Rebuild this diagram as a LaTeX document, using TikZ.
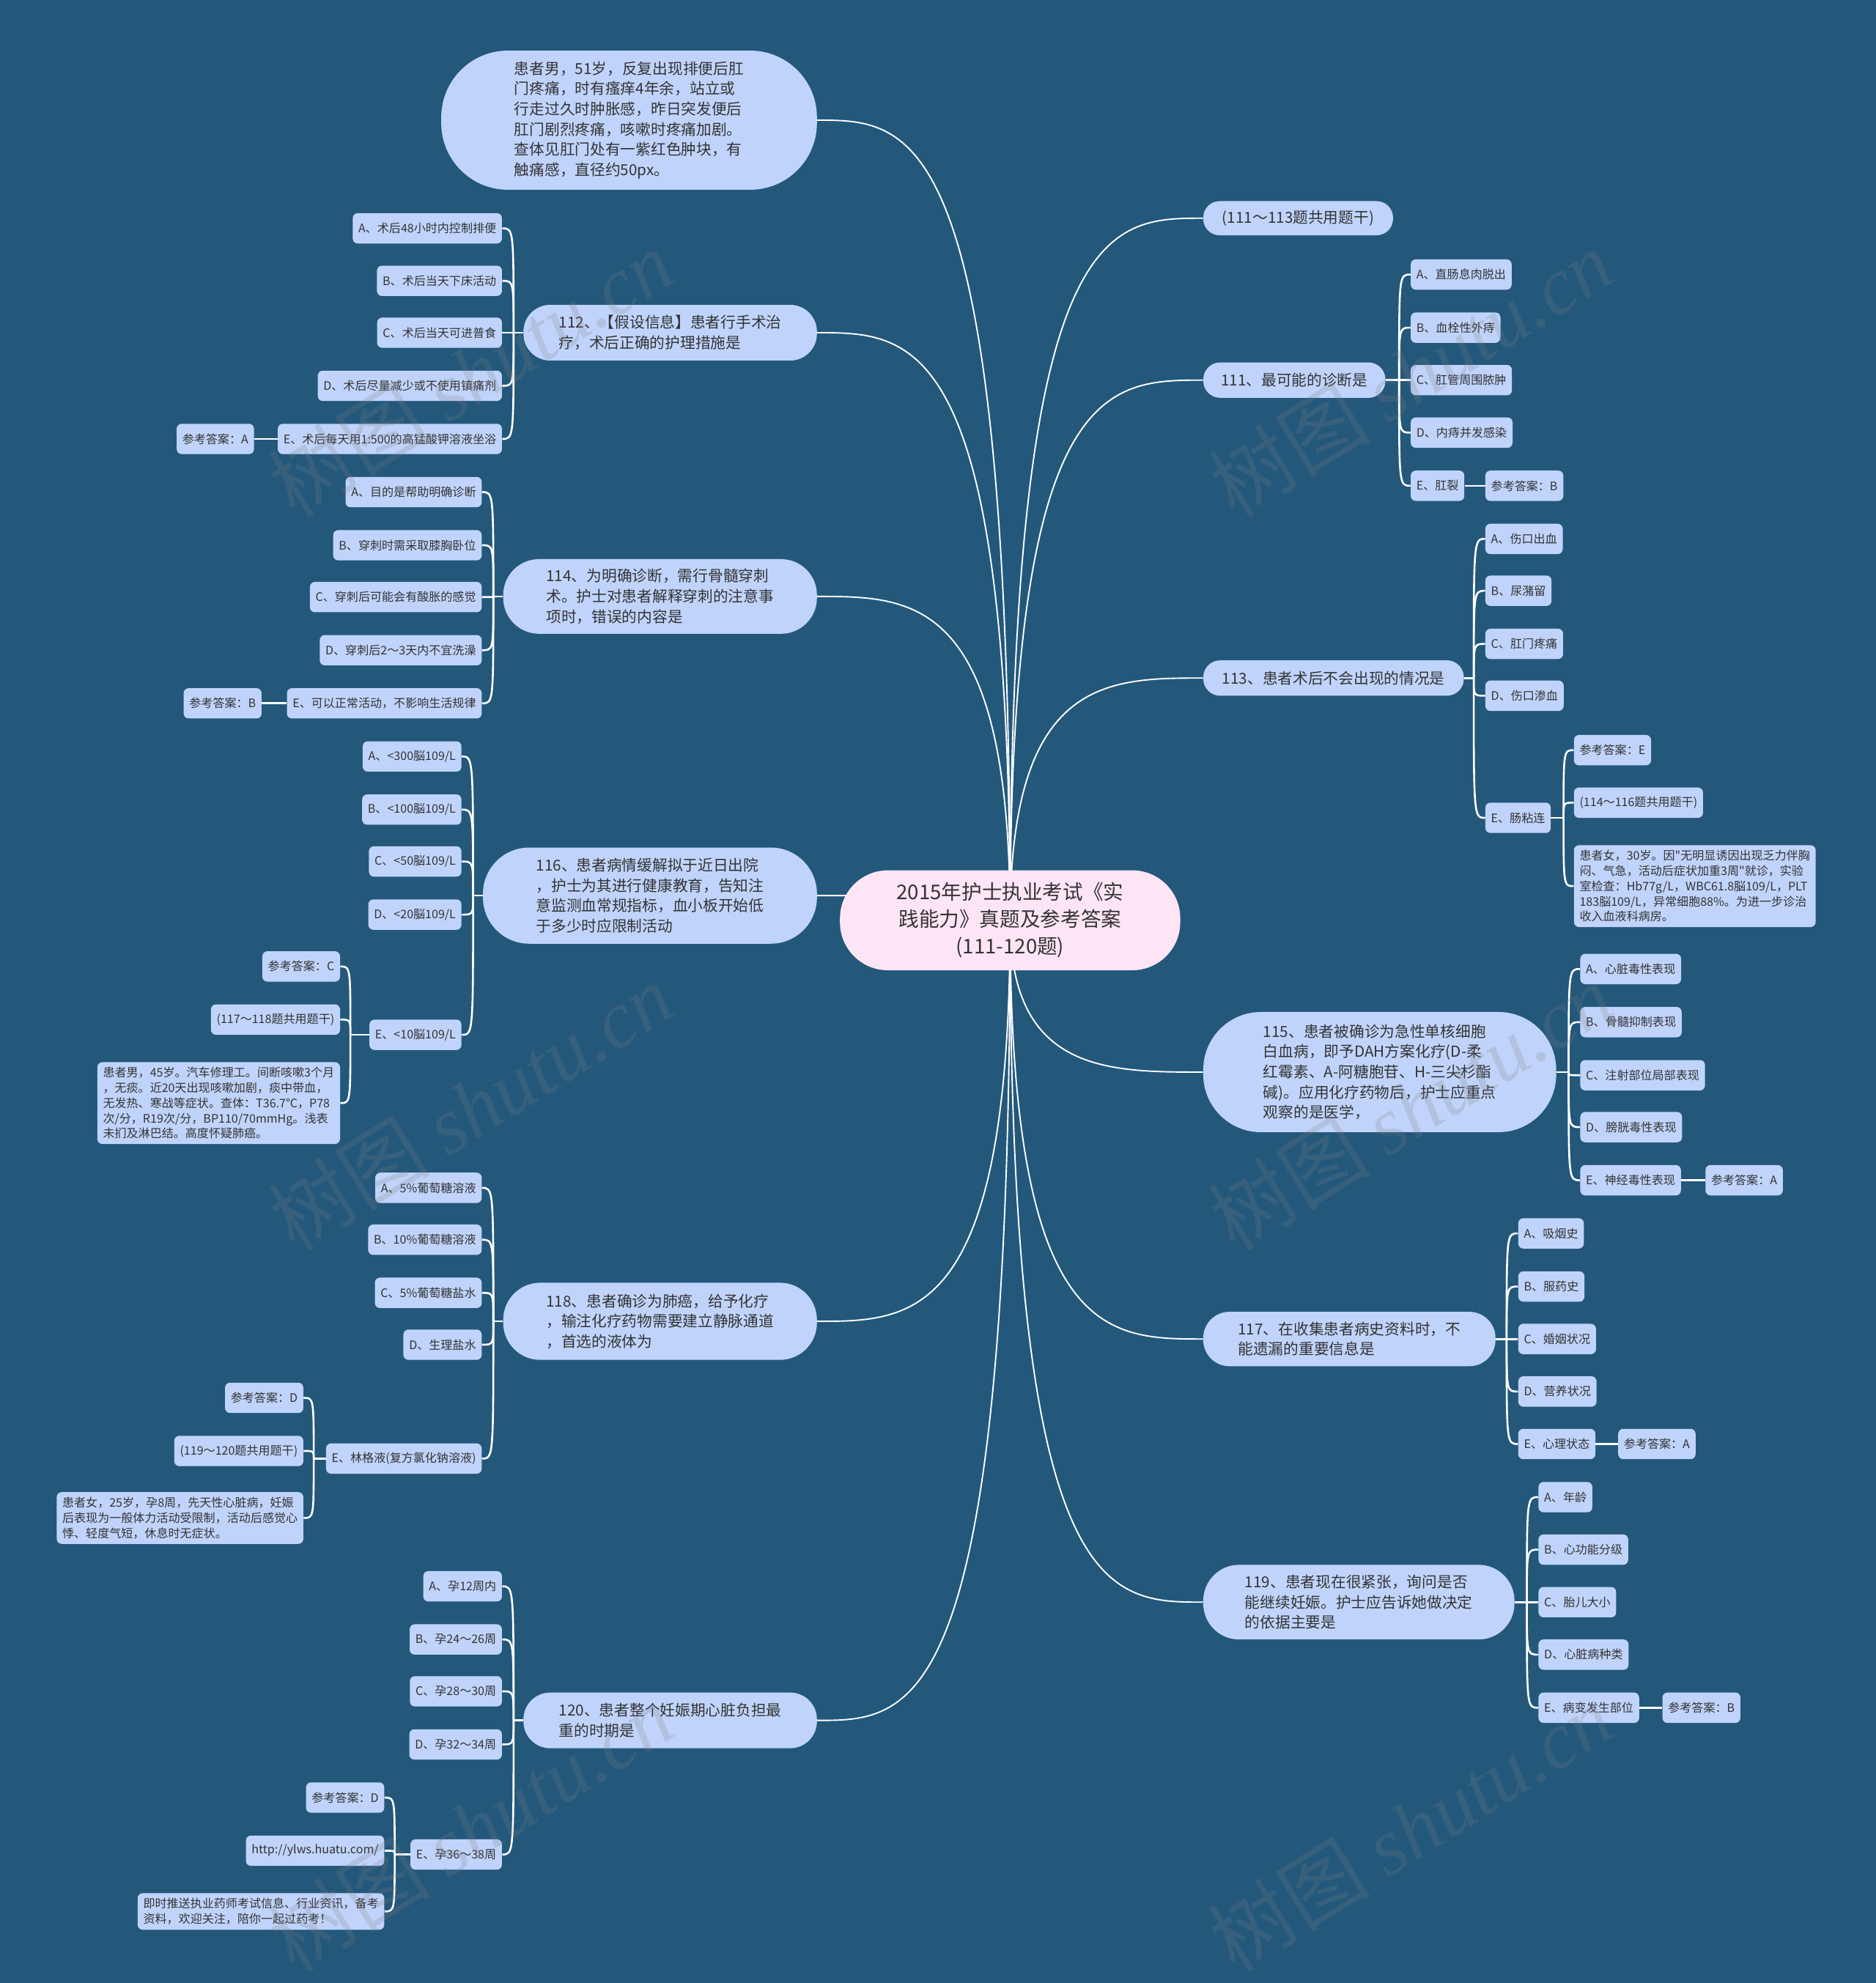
\documentclass[tikz,border=0pt]{standalone}
\usepackage{fontspec}
\setmainfont{Noto Sans CJK SC}[Ligatures=TeXOff]
\newfontfamily\wmlatin{Liberation Serif}
\usetikzlibrary{calc}

\definecolor{bgblue}{HTML}{23587B}
\definecolor{nodeblue}{HTML}{C0D4FB}
\definecolor{rootpink}{HTML}{FEE5F6}
\definecolor{inkgray}{HTML}{333333}

\pgfdeclarelayer{back}
\pgfdeclarelayer{links}
\pgfdeclarelayer{marks}
\pgfsetlayers{back,links,main,marks}

\tikzset{
    pill/.style 2 args={fill=nodeblue, text=inkgray, inner xsep=0pt, inner ysep=0pt,
        minimum width=#1pt, minimum height=#2pt, rounded corners=0.48*#2pt,
        align=left, font=\fontsize{12}{16}\selectfont},
    rootpill/.style={pill={269}{79}, fill=rootpink, align=center,
        font=\fontsize{16}{21.5}\selectfont},
    leaf/.style={fill=nodeblue, text=inkgray, inner xsep=4.5pt, inner ysep=0pt,
        minimum height=24pt, rounded corners=4pt, align=left,
        font=\fontsize{9.3}{12}\selectfont},
    note/.style={leaf, inner ysep=4pt},
    trunk/.style={draw=white, line width=1.1pt},
    twig/.style={draw=white, line width=1.5pt},
    wmark/.style={text=gray, opacity=0.22, rotate=32,
        font=\fontsize{64}{64}\selectfont}
}

\begin{document}
\begin{tikzpicture}[x=1pt, y=-1pt]

    % Canvas
    \useasboundingbox (0,0) rectangle (1483,1567.6);
    \begin{pgfonlayer}{back}
        \fill[bgblue] (0,0) rectangle (1483,1567.6);
    \end{pgfonlayer}

    % Root
    \node[rootpill] (root) at (798.5,727.5)
        {2015年护士执业考试《实\\践能力》真题及参考答案\\(111-120题)};

    % Right branches
    \node[pill={150}{27}, anchor=west] (R1) at (951,172.5) {(111～113题共用题干)};
    \node[pill={144}{28}, anchor=west] (R2) at (951,300.5) {111、最可能的诊断是};
    \node[pill={206}{28}, anchor=west] (R3) at (951,536) {113、患者术后不会出现的情况是};
    \node[pill={279}{95}, anchor=west] (R4) at (951,847.5)
        {115、患者被确诊为急性单核细胞\\白血病，即予DAH方案化疗(D-柔\\红霉素、A-阿糖胞苷、H-三尖杉酯\\碱)。应用化疗药物后，护士应重点\\观察的是医学，};
    \node[pill={231}{43}, anchor=west] (R5) at (951,1058.5)
        {117、在收集患者病史资料时，不\\能遗漏的重要信息是};
    \node[pill={246}{59}, anchor=west] (R6) at (951,1266.5)
        {119、患者现在很紧张，询问是否\\能继续妊娠。护士应告诉她做决定\\的依据主要是};

    % Left branches
    \node[pill={297}{110}, anchor=east] (L1) at (646,95)
        {患者男，51岁，反复出现排便后肛\\门疼痛，时有瘙痒4年余，站立或\\行走过久时肿胀感，昨日突发便后\\肛门剧烈疼痛，咳嗽时疼痛加剧。\\查体见肛门处有一紫红色肿块，有\\触痛感，直径约50px。};
    \node[pill={232}{44}, anchor=east] (L2) at (646,263)
        {112、【假设信息】患者行手术治\\疗，术后正确的护理措施是};
    \node[pill={248}{59}, anchor=east] (L3) at (646,471.5)
        {114、为明确诊断，需行骨髓穿刺\\术。护士对患者解释穿刺的注意事\\项时，错误的内容是};
    \node[pill={264}{76}, anchor=east] (L4) at (646,708)
        {116、患者病情缓解拟于近日出院\\，护士为其进行健康教育，告知注\\意监测血常规指标，血小板开始低\\于多少时应限制活动};
    \node[pill={248}{61}, anchor=east] (L5) at (646,1044.5)
        {118、患者确诊为肺癌，给予化疗\\，输注化疗药物需要建立静脉通道\\，首选的液体为};
    \node[pill={232}{44}, anchor=east] (L6) at (646,1360)
        {120、患者整个妊娠期心脏负担最\\重的时期是};

    % Options of 111
    \node[leaf, anchor=west] (R2a) at (1115,217) {A、直肠息肉脱出};
    \node[leaf, anchor=west] (R2b) at (1115,259) {B、血栓性外痔};
    \node[leaf, anchor=west] (R2c) at (1115,300.5) {C、肛管周围脓肿};
    \node[leaf, anchor=west] (R2d) at (1115,342) {D、内痔并发感染};
    \node[leaf, anchor=west] (R2e) at (1115,384) {E、肛裂};
    \node[leaf, anchor=west] (R2k) at (1174,384) {参考答案：B};

    % Options of 113
    \node[leaf, anchor=west] (R3a) at (1174,426) {A、伤口出血};
    \node[leaf, anchor=west] (R3b) at (1174,467) {B、尿潴留};
    \node[leaf, anchor=west] (R3c) at (1174,509) {C、肛门疼痛};
    \node[leaf, anchor=west] (R3d) at (1174,550) {D、伤口渗血};
    \node[leaf, anchor=west] (R3e) at (1174,646.5) {E、肠粘连};
    \node[leaf, anchor=west] (R3k) at (1244,593) {参考答案：E};
    \node[leaf, anchor=west] (R3s) at (1244,634.5) {(114～116题共用题干)};
    \node[note, anchor=west] (R3t) at (1244,700.5)
        {患者女，30岁。因"无明显诱因出现乏力伴胸\\闷、气急，活动后症状加重3周"就诊，实验\\室检查：Hb77g/L，WBC61.8脳109/L，PLT\\183脳109/L，异常细胞88\%。为进一步诊治\\收入血液科病房。};

    % Options of 115
    \node[leaf, anchor=west] (R4a) at (1249,766) {A、心脏毒性表现};
    \node[leaf, anchor=west] (R4b) at (1249,808) {B、骨髓抑制表现};
    \node[leaf, anchor=west] (R4c) at (1249,850) {C、注射部位局部表现};
    \node[leaf, anchor=west] (R4d) at (1249,891) {D、膀胱毒性表现};
    \node[leaf, anchor=west] (R4e) at (1249,933) {E、神经毒性表现};
    \node[leaf, anchor=west] (R4k) at (1348,933) {参考答案：A};

    % Options of 117
    \node[leaf, anchor=west] (R5a) at (1200,975) {A、吸烟史};
    \node[leaf, anchor=west] (R5b) at (1200,1017) {B、服药史};
    \node[leaf, anchor=west] (R5c) at (1200,1058.5) {C、婚姻状况};
    \node[leaf, anchor=west] (R5d) at (1200,1100) {D、营养状况};
    \node[leaf, anchor=west] (R5e) at (1200,1141.5) {E、心理状态};
    \node[leaf, anchor=west] (R5k) at (1279,1141.5) {参考答案：A};

    % Options of 119
    \node[leaf, anchor=west] (R6a) at (1216,1183.5) {A、年龄};
    \node[leaf, anchor=west] (R6b) at (1216,1225) {B、心功能分级};
    \node[leaf, anchor=west] (R6c) at (1216,1266.5) {C、胎儿大小};
    \node[leaf, anchor=west] (R6d) at (1216,1308) {D、心脏病种类};
    \node[leaf, anchor=west] (R6e) at (1216,1350) {E、病变发生部位};
    \node[leaf, anchor=west] (R6k) at (1314,1350) {参考答案：B};

    % Options of 112
    \node[leaf, anchor=east] (L2a) at (397,180.5) {A、术后48小时内控制排便};
    \node[leaf, anchor=east] (L2b) at (397,222) {B、术后当天下床活动};
    \node[leaf, anchor=east] (L2c) at (397,263) {C、术后当天可进普食};
    \node[leaf, anchor=east] (L2d) at (397,305) {D、术后尽量减少或不使用镇痛剂};
    \node[leaf, anchor=east] (L2e) at (397,347) {E、术后每天用1:500的高锰酸钾溶液坐浴};
    \node[leaf, anchor=east] (L2k) at (201,347) {参考答案：A};

    % Options of 114
    \node[leaf, anchor=east] (L3a) at (381,389) {A、目的是帮助明确诊断};
    \node[leaf, anchor=east] (L3b) at (381,431) {B、穿刺时需采取膝胸卧位};
    \node[leaf, anchor=east] (L3c) at (381,472) {C、穿刺后可能会有酸胀的感觉};
    \node[leaf, anchor=east] (L3d) at (381,514) {D、穿刺后2～3天内不宜洗澡};
    \node[leaf, anchor=east] (L3e) at (381,556) {E、可以正常活动，不影响生活规律};
    \node[leaf, anchor=east] (L3k) at (207,556) {参考答案：B};

    % Options of 116
    \node[leaf, anchor=east] (L4a) at (365,598) {A、<300脳109/L};
    \node[leaf, anchor=east] (L4b) at (365,640) {B、<100脳109/L};
    \node[leaf, anchor=east] (L4c) at (365,681) {C、<50脳109/L};
    \node[leaf, anchor=east] (L4d) at (365,723) {D、<20脳109/L};
    \node[leaf, anchor=east] (L4e) at (365,818) {E、<10脳109/L};
    \node[leaf, anchor=east] (L4k) at (269,764) {参考答案：C};
    \node[leaf, anchor=east] (L4s) at (269,806) {(117～118题共用题干)};
    \node[note, anchor=east] (L4t) at (269,872)
        {患者男，45岁。汽车修理工。间断咳嗽3个月\\，无痰。近20天出现咳嗽加剧，痰中带血，\\无发热、寒战等症状。查体：T36.7℃，P78\\次/分，R19次/分，BP110/70mmHg。浅表\\未扪及淋巴结。高度怀疑肺癌。};

    % Options of 118
    \node[leaf, anchor=east] (L5a) at (381,939) {A、5\%葡萄糖溶液};
    \node[leaf, anchor=east] (L5b) at (381,980) {B、10\%葡萄糖溶液};
    \node[leaf, anchor=east] (L5c) at (381,1022) {C、5\%葡萄糖盐水};
    \node[leaf, anchor=east] (L5d) at (381,1063) {D、生理盐水};
    \node[leaf, anchor=east] (L5e) at (381,1153) {E、林格液(复方氯化钠溶液)};
    \node[leaf, anchor=east] (L5k) at (240,1105) {参考答案：D};
    \node[leaf, anchor=east] (L5s) at (240,1147) {(119～120题共用题干)};
    \node[note, anchor=east] (L5t) at (240,1200)
        {患者女，25岁，孕8周，先天性心脏病，妊娠\\后表现为一般体力活动受限制，活动后感觉心\\悸、轻度气短，休息时无症状。};

    % Options of 120
    \node[leaf, anchor=east] (L6a) at (397,1254) {A、孕12周内};
    \node[leaf, anchor=east] (L6b) at (397,1296) {B、孕24～26周};
    \node[leaf, anchor=east] (L6c) at (397,1337) {C、孕28～30周};
    \node[leaf, anchor=east] (L6d) at (397,1379) {D、孕32～34周};
    \node[leaf, anchor=east] (L6e) at (397,1466) {E、孕36～38周};
    \node[leaf, anchor=east] (L6k) at (304,1421) {参考答案：D};
    \node[leaf, anchor=east] (L6s) at (304,1463) {http://ylws.huatu.com/};
    \node[note, anchor=east] (L6t) at (304,1511)
        {即时推送执业药师考试信息、行业资讯，备考\\资料，欢迎关注，陪你一起过药考！};

    \begin{pgfonlayer}{links}
        % Root to branches
        \foreach \b in {R1,R2,R3,R4,R5,R6}
            \draw[trunk] (root.center) .. controls (root.center |- \b.west)
                and ($(root.center |- \b.west)!0.5!(\b.west)$) .. (\b.west);
        \foreach \b in {L1,L2,L3,L4,L5,L6}
            \draw[trunk] (root.center) .. controls (root.center |- \b.east)
                and ($(root.center |- \b.east)!0.5!(\b.east)$) .. (\b.east);

        % Branches to options
        \foreach \p in {R2,R3,R4,R5,R6} {
            \coordinate (\p j) at ($(\p a.west |- \p.east)+(-9,0)$);
            \draw[twig] (\p.east) -- (\p j);
            \foreach \c in {a,...,e}
                \draw[twig] (\p j) .. controls (\p j |- \p\c.west) .. (\p\c.west);
        }
        \foreach \p in {L2,L3,L4,L5,L6} {
            \coordinate (\p j) at ($(\p a.east |- \p.west)+(9,0)$);
            \draw[twig] (\p.west) -- (\p j);
            \foreach \c in {a,...,e}
                \draw[twig] (\p j) .. controls (\p j |- \p\c.east) .. (\p\c.east);
        }

        % Option E to its notes
        \foreach \p in {R3} {
            \coordinate (\p m) at ($(\p k.west |- \p e.east)+(-8,0)$);
            \draw[twig] (\p e.east) -- (\p m);
            \foreach \c in {k,s,t}
                \draw[twig] (\p m) .. controls (\p m |- \p\c.west) .. (\p\c.west);
        }
        \foreach \p in {L4,L5,L6} {
            \coordinate (\p m) at ($(\p k.east |- \p e.west)+(8,0)$);
            \draw[twig] (\p e.west) -- (\p m);
            \foreach \c in {k,s,t}
                \draw[twig] (\p m) .. controls (\p m |- \p\c.east) .. (\p\c.east);
        }

        % Answers beside option E
        \foreach \p in {R2,R4,R5,R6}
            \draw[twig] (\p e.east) -- (\p k.west);
        \foreach \p in {L2,L3}
            \draw[twig] (\p e.west) -- (\p k.east);
    \end{pgfonlayer}

    % Watermarks
    \begin{pgfonlayer}{marks}
        \foreach \x in {372,1115}
            \foreach \y in {295,875,1445}
                \node[wmark] (wm\x-\y) at (\x,\y) {树图 {\wmlatin\itshape shutu.cn}};
    \end{pgfonlayer}

\end{tikzpicture}
\end{document}
